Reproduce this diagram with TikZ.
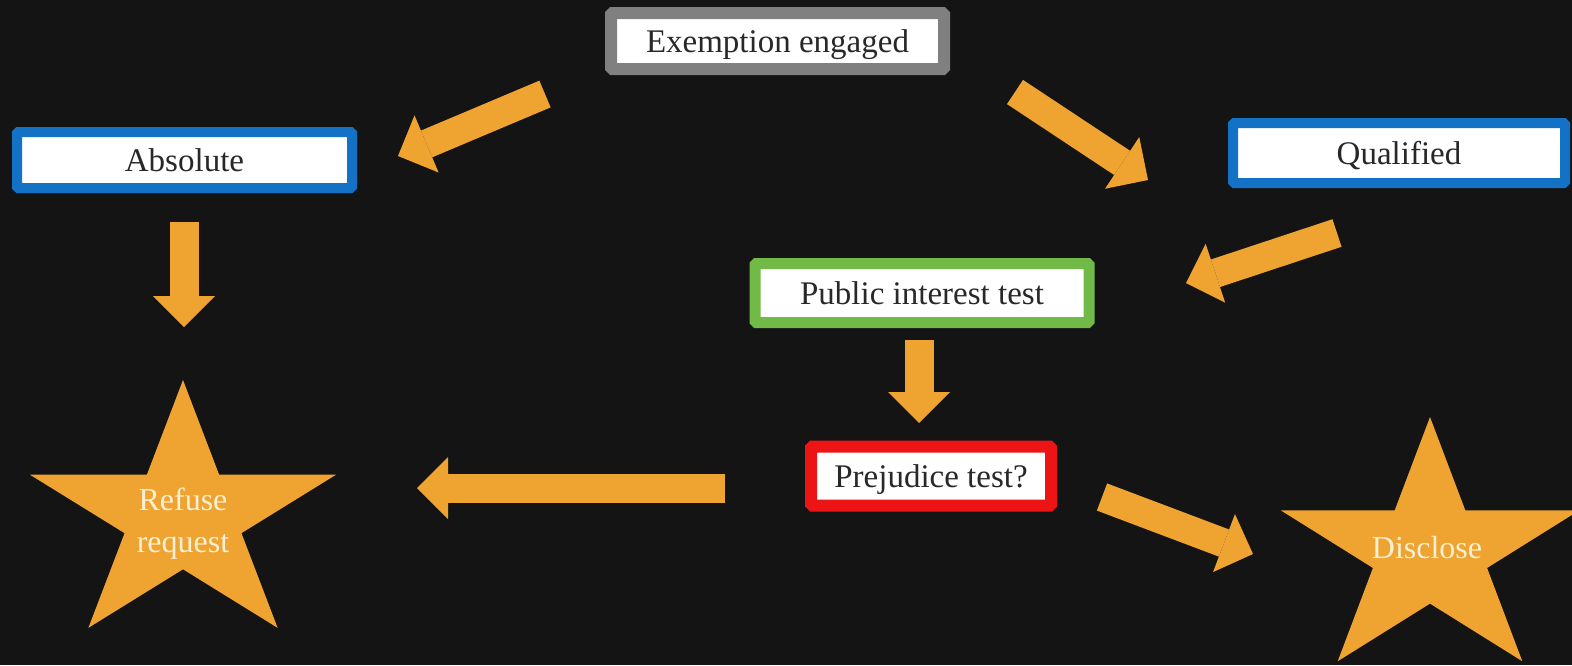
\documentclass[tikz,border=0pt]{standalone}
\usepackage{fontspec}
\setmainfont{Liberation Serif}
\usetikzlibrary{arrows.meta}

\definecolor{bgdark}{RGB}{20,20,20}
\definecolor{flow}{RGB}{239,163,48}
\definecolor{framegray}{RGB}{128,128,128}
\definecolor{frameblue}{RGB}{20,114,198}
\definecolor{framegreen}{RGB}{114,186,72}
\definecolor{framered}{RGB}{236,20,20}
\definecolor{inktext}{RGB}{40,40,40}
\definecolor{startext}{RGB}{250,240,212}

\tikzset{
  labelbox/.style={draw=#1, fill=white, rounded corners=1.5pt, inner sep=0pt,
    text=inktext, font=\fontsize{33}{38}\selectfont,
    text height=22pt, text depth=0pt},
  flowarrow/.style={draw=flow, line width=29pt, line cap=butt,
    -{Triangle[width=62pt, length=31pt, line width=0pt, fill=flow]}},
  startitle/.style={text=startext, font=\fontsize{32}{42}\selectfont,
    align=center, inner sep=0pt}
}

% five-pointed star, outer radius #1, inner radius #2
\newcommand{\starpath}[2]{(270:#1) -- (306:#2) -- (342:#1) -- (18:#2) -- (54:#1)
  -- (90:#2) -- (126:#1) -- (162:#2) -- (198:#1) -- (234:#2) -- cycle}

\begin{document}
\begin{tikzpicture}[x=1pt, y=-1pt]
  % canvas
  \fill[bgdark] (0,0) rectangle (1572,665);
  \useasboundingbox (0,0) rectangle (1572,665);

  % outcome stars
  \begin{scope}[shift={(183,517)}, xscale=1.175]
    \fill[flow] \starpath{137}{52.3};
  \end{scope}
  \begin{scope}[shift={(1430,552)}, xscale=1.163]
    \fill[flow] \starpath{135}{51.6};
  \end{scope}
  \node[startitle] (refuse) at (183,524) {Refuse\\request};
  \node[startitle] (disclose) at (1427,548) {Disclose};

  % decision boxes
  \node[labelbox=framegray, line width=12pt, minimum width=333pt, minimum height=56pt]
    (exempt) at (777.5,41) {Exemption engaged};
  \node[labelbox=frameblue, line width=10pt, minimum width=335pt, minimum height=56pt]
    (absolute) at (184.5,160) {Absolute};
  \node[labelbox=frameblue, line width=10pt, minimum width=332pt, minimum height=60pt]
    (qualified) at (1399,153) {Qualified};
  \node[labelbox=framegreen, line width=11pt, minimum width=334pt, minimum height=59pt]
    (public) at (922,293) {Public interest test};
  \node[labelbox=framered, line width=12pt, minimum width=240pt, minimum height=59pt]
    (prejudice) at (931,476) {Prejudice test?};

  % arrow end points
  \coordinate (exempt-out-l) at (545,94);
  \coordinate (absolute-in)  at (398,156);
  \coordinate (exempt-out-r) at (1015,92);
  \coordinate (qualified-in) at (1148,180);
  \coordinate (qualified-out) at (1337,233);
  \coordinate (public-in)    at (1186,283);
  \coordinate (absolute-out) at (184,222);
  \coordinate (refuse-in-t)  at (184,327);
  \coordinate (public-out)   at (919,340);
  \coordinate (prejudice-in) at (919,423);
  \coordinate (prejudice-out-l) at (725,488);
  \coordinate (refuse-in-r)  at (417,488);
  \coordinate (prejudice-out-r) at (1102,497);
  \coordinate (disclose-in)  at (1253,554);

  % flow arrows
  \draw[flowarrow] (exempt-out-l) -- (absolute-in);
  \draw[flowarrow] (exempt-out-r) -- (qualified-in);
  \draw[flowarrow] (qualified-out) -- (public-in);
  \draw[flowarrow] (absolute-out) -- (refuse-in-t);
  \draw[flowarrow] (public-out) -- (prejudice-in);
  \draw[flowarrow] (prejudice-out-l) -- (refuse-in-r);
  \draw[flowarrow] (prejudice-out-r) -- (disclose-in);
\end{tikzpicture}
\end{document}
